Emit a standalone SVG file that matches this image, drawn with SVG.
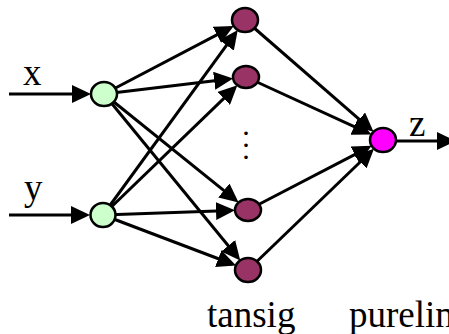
<svg xmlns="http://www.w3.org/2000/svg" width="449" height="334" viewBox="0 0 449 334">
<style>
.c line{stroke:#000;stroke-width:3;fill:none;marker-end:url(#ah)}
.in{fill:#CCFFCC;stroke:#000;stroke-width:2.5}
.hid{fill:#993366;stroke:#000;stroke-width:2.5}
.out{fill:#FF00FF;stroke:#000;stroke-width:2.5}
text{font-family:"Liberation Serif","Times New Roman",serif;fill:#000}
.lbl{font-size:37px}
.dot{font-size:30px;text-anchor:middle}
</style>
<defs>
<marker id="ah" markerUnits="userSpaceOnUse" viewBox="0 0 19 18" markerWidth="19" markerHeight="18" refX="15" refY="9" orient="auto">
<path d="M0,0 L19,9 L0,18 z" fill="#000"/>
</marker>
</defs>
<rect width="449" height="334" fill="#fff"/>
<g id="connectors" class="c">
<line x1="9" y1="94" x2="87" y2="94"/>
<line x1="9" y1="215" x2="86" y2="215"/>
<line x1="104" y1="94" x2="230.2" y2="27.8"/>
<line x1="104" y1="94" x2="229.1" y2="79"/>
<line x1="104" y1="94" x2="235.5" y2="199.9"/>
<line x1="104" y1="94" x2="237.7" y2="257.3"/>
<line x1="103" y1="215" x2="235.4" y2="33.2"/>
<line x1="103" y1="215" x2="234.5" y2="88.1"/>
<line x1="103" y1="215" x2="231" y2="210.5"/>
<line x1="103" y1="215" x2="232.3" y2="264"/>
<line x1="245" y1="20" x2="370.5" y2="129.2"/>
<line x1="246" y1="77" x2="367.8" y2="132.9"/>
<line x1="248" y1="210" x2="368.1" y2="147.7"/>
<line x1="248" y1="270" x2="371.1" y2="151.5"/>
<line x1="383" y1="141" x2="452" y2="141"/>
</g>
<g id="input-x"><ellipse class="in" cx="104" cy="94" rx="13" ry="12"/></g>
<g id="input-y"><ellipse class="in" cx="103" cy="215" rx="12.5" ry="12"/></g>
<g id="hidden-1"><ellipse class="hid" cx="245" cy="20" rx="13" ry="12"/></g>
<g id="hidden-2"><ellipse class="hid" cx="246" cy="77" rx="13" ry="11"/></g>
<g id="hidden-3"><ellipse class="hid" cx="248" cy="210" rx="13" ry="11"/></g>
<g id="hidden-4"><ellipse class="hid" cx="248" cy="270" rx="13" ry="12"/></g>
<g id="output-z"><ellipse class="out" cx="383" cy="140" rx="13" ry="12"/></g>
<g id="labels">
<text class="lbl" x="23" y="85">x</text>
<text class="lbl" x="24" y="200">y</text>
<text class="lbl" x="409" y="136">z</text>
<text class="dot"><tspan x="246" y="134.5">.</tspan><tspan x="246" y="146.5">.</tspan><tspan x="246" y="159">.</tspan></text>
<text class="lbl" x="207" y="327">tansig</text>
<text class="lbl" x="349" y="327">purelin</text>
</g>
</svg>
